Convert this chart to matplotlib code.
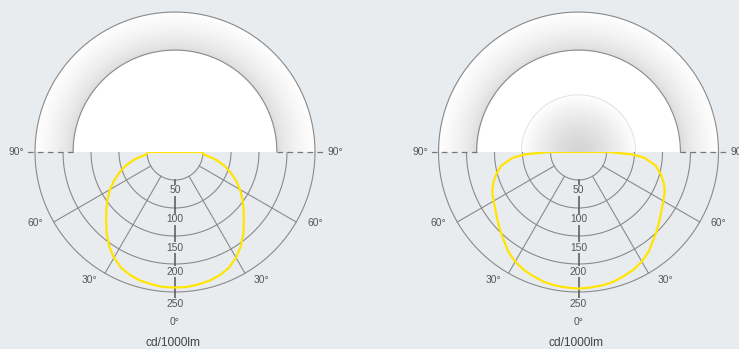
import numpy as np
import matplotlib
matplotlib.use("Agg")
import matplotlib.pyplot as plt

angles = [0, 5, 10, 15, 20, 25, 30, 35, 40, 45, 50, 55, 60, 65, 70, 75, 80, 85, 87.5, 90]
left_cd = [242, 242, 240, 238, 234, 228, 218, 205, 190, 174, 160, 147, 134, 120, 105, 90, 72, 52, 50, 50]
right_cd = [244, 243, 242, 240, 236, 232, 226, 218, 207, 198, 189, 181, 175, 170, 162, 152, 140, 118, 95, 52]

ring_values = [50, 100, 150, 200, 250]
ring_labels = ["50", "100", "150", "200", "250"]
spoke_angles = [30, 60]
unit_label = "cd/1000lm"

W, H = 739, 349
S = 0.56          # pixels par cd
CY = 152          # centre vertical (pixels depuis le haut)
BG = "#e9ecef"
GRID = "#8a8a8a"
TXT = "#555555"
YELLOW = "#ffe500"
R_OUT = 250
R_IN = 182        # arc intérieur de la vignette du luminaire

plt.rcParams["font.family"] = ["Liberation Sans", "DejaVu Sans"]
fig = plt.figure(figsize=(W / 100, H / 100), dpi=100, facecolor=BG)


def lamp_image(with_core):
    n = 400
    xs = np.linspace(-R_OUT, R_OUT, n)
    ys = np.linspace(0, R_OUT, n // 2)
    X, Y = np.meshgrid(xs, ys)
    r = np.hypot(X, Y)
    g = np.ones_like(r)
    ring = (r > R_IN) & (r <= R_OUT)
    t = (r[ring] - R_IN) / (R_OUT - R_IN)
    g[ring] = 0.85 + 0.15 * np.clip(t, 0, 1) ** 0.6
    if with_core:
        core = r < 102
        g[core] = 0.83 + 0.17 * (r[core] / 102) ** 1.3
    img = np.zeros(r.shape + (4,))
    img[..., 0] = g
    img[..., 1] = g
    img[..., 2] = g
    img[..., 3] = (r <= R_OUT).astype(float)
    return img


def panel(cx, px0, px1, values, with_core):
    ax = fig.add_axes([px0 / W, 0, (px1 - px0) / W, 1])
    ax.set_xlim((px0 - cx) / S, (px1 - cx) / S)
    ax.set_ylim((CY - H) / S, CY / S)
    ax.axis("off")
    ax.set_facecolor(BG)

    # vignette supérieure
    ax.imshow(lamp_image(with_core), extent=[-R_OUT, R_OUT, 0, R_OUT],
              origin="lower", interpolation="bilinear", zorder=5)
    th = np.linspace(0, np.pi, 200)
    ax.plot(R_OUT * np.cos(th), R_OUT * np.sin(th), color=GRID, lw=0.8, zorder=6)
    ax.plot(R_IN * np.cos(th), R_IN * np.sin(th), color=GRID, lw=0.8, zorder=6)
    if with_core:
        ax.plot(102 * np.cos(th), 102 * np.sin(th), color="#dddddd", lw=0.6, zorder=6)

    # grille polaire (demi-cercle inférieur)
    thb = np.linspace(np.pi, 2 * np.pi, 200)
    for rv in ring_values:
        ax.plot(rv * np.cos(thb), rv * np.sin(thb), color=GRID, lw=0.8, zorder=2)
    for a in spoke_angles:
        for sgn in (-1, 1):
            ar = np.radians(a)
            ax.plot([sgn * ring_values[0] * np.sin(ar), sgn * R_OUT * np.sin(ar)],
                    [-ring_values[0] * np.cos(ar), -R_OUT * np.cos(ar)],
                    color=GRID, lw=0.8, zorder=2)
    # axe vertical gradué
    ax.plot([0, 0], [-ring_values[0], -265], color="#555555", lw=1.1, zorder=3)
    label_y = [-68, -120, -171, -214, -271]
    for lab, yy in zip(ring_labels, label_y):
        ax.text(0, yy, lab, ha="center", va="center", fontsize=7.4, color=TXT,
                zorder=4, bbox=dict(boxstyle="square,pad=0.05", fc=BG, ec="none"))

    # ligne pointillée à 90°
    for sgn in (-1, 1):
        ax.plot([sgn * R_IN, sgn * 266], [0, 0], color="#777777", lw=0.9,
                ls=(0, (4.5, 3.5)), zorder=7)

    ax.text(-269, 0, "90°", ha="right", va="center", fontsize=7.4, color=TXT)
    ax.text(272, 0, "90°", ha="left", va="center", fontsize=7.4, color=TXT)
    ax.text(-250, -127, "60°", ha="center", va="center", fontsize=7.4, color=TXT)
    ax.text(250, -127, "60°", ha="center", va="center", fontsize=7.4, color=TXT)
    ax.text(-152, -229, "30°", ha="center", va="center", fontsize=7.4, color=TXT)
    ax.text(155, -229, "30°", ha="center", va="center", fontsize=7.4, color=TXT)
    ax.text(0, -304, "0°", ha="center", va="center", fontsize=7.4, color=TXT)
    ax.text(-4, -341, unit_label, ha="center", va="center", fontsize=8.6, color="#444444")

    # courbe photométrique
    a = np.radians(np.array(angles))
    v = np.array(values, dtype=float)
    full_a = np.concatenate([-a[::-1], a[1:]])
    full_v = np.concatenate([v[::-1], v[1:]])
    x = full_v * np.sin(full_a)
    y = -full_v * np.cos(full_a)
    x = np.append(x, x[0])
    y = np.append(y, y[0])
    ax.plot(x, y, color=YELLOW, lw=1.6, zorder=4.5, solid_joinstyle="round")
    return ax


panel(175, 0, 370, left_cd, False)
panel(578.5, 370, W, right_cd, True)

fig.savefig("out.png", dpi=100, facecolor=BG)
